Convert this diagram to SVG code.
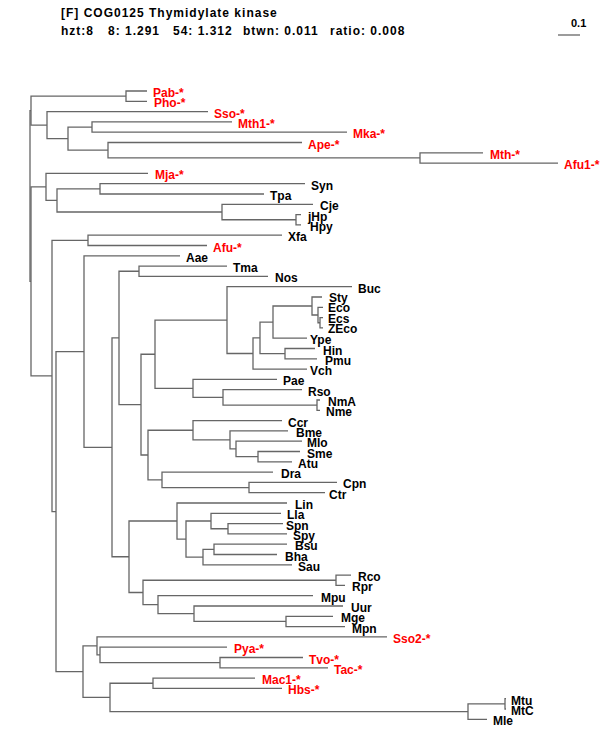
<svg xmlns="http://www.w3.org/2000/svg" width="600" height="750" viewBox="0 0 600 750">
<style>
text{font-family:"Liberation Sans",Arial,sans-serif;font-weight:bold;font-size:12px;fill:#000}
.h{letter-spacing:1px}
.r{fill:#ff0000}
.br{fill:none;stroke:#666;stroke-width:1.3}
</style>
<rect width="600" height="750" fill="#fff"/>
<g id="header">
<text class="h" x="61" y="17">[F] COG0125 Thymidylate kinase</text>
<text class="h" x="61" y="35">hzt:8</text>
<text class="h" x="108" y="35">8: 1.291</text>
<text class="h" x="173" y="35">54: 1.312</text>
<text class="h" x="243" y="35">btwn: 0.011</text>
<text class="h" x="330" y="35">ratio: 0.008</text>
</g>
<g id="scale">
<text x="571" y="27" style="font-size:11px">0.1</text>
<path class="br" d="M558 35H580"/>
</g>
<g id="connectors" class="br">
<path d="M31 110.6H30V281.4H31"/>
<path d="M126 96.15H31V125.1H47"/>
<path d="M147 91H126V101.3H147"/>
<path d="M208 111.6H47V138.6H68"/>
<path d="M92 127.05H68V150.2H108"/>
<path d="M232 121.9H92V132.2H347"/>
<path d="M302 142.5H108V157.95H420"/>
<path d="M483 152.8H420V163.1H558"/>
<path d="M46 186.9H31V375.95H52"/>
<path d="M148 173.4H46V200.4H57"/>
<path d="M100 188.85H57V212H222"/>
<path d="M305 183.7H100V194H264"/>
<path d="M313 204.3H222V219.75H296"/>
<path d="M301 214.6H296V224.9H301"/>
<path d="M88 240.35H52V511.6H56"/>
<path d="M282 235.2H88V245.5H207"/>
<path d="M84 351.55H56V671.65H83"/>
<path d="M180 255.8H84V447.3H112"/>
<path d="M119 337.9H112V556.75H129"/>
<path d="M139 271.25H119V404.6H141"/>
<path d="M227 266.1H139V276.4H268"/>
<path d="M155 354.25H141V455H148"/>
<path d="M227 320.1H155V388.4H193"/>
<path d="M352 286.7H227V353.5H253"/>
<path d="M260 337.9H253V369.1H307"/>
<path d="M273 322.1H260V353.65H285"/>
<path d="M312 306H273V338.2H307"/>
<path d="M322 297H312V315H318"/>
<path d="M323 307.3H318V322.75H320"/>
<path d="M323 317.6H320V327.9H323"/>
<path d="M315 348.5H285V358.8H317"/>
<path d="M277 379.4H193V397.4H223"/>
<path d="M302 389.7H223V405.15H317"/>
<path d="M320 400H317V410.3H320"/>
<path d="M193 430.25H148V479.8H162"/>
<path d="M282 420.6H193V439.9H230"/>
<path d="M288 430.9H230V448.9H236"/>
<path d="M302 441.2H236V456.65H258"/>
<path d="M300 451.5H258V461.8H292"/>
<path d="M273 472.1H162V487.55H249"/>
<path d="M337 482.4H249V492.7H325"/>
<path d="M177 521H129V592.5H143"/>
<path d="M287 503H177V539.05H186"/>
<path d="M211 521H186V557.1H203"/>
<path d="M281 513.3H211V528.75H228"/>
<path d="M283 523.6H228V533.9H287"/>
<path d="M214 549.35H203V564.8H292"/>
<path d="M287 544.2H214V554.5H277"/>
<path d="M336 580.25H143V604.7H158"/>
<path d="M351 575.1H336V585.4H345"/>
<path d="M313 595.7H158V613.7H194"/>
<path d="M343 606H194V621.45H286"/>
<path d="M333 616.3H286V626.6H345"/>
<path d="M97 645.9H83V697.4H110"/>
<path d="M387 636.9H97V654.9H100"/>
<path d="M227 647.2H100V662.65H220"/>
<path d="M303 657.5H220V667.8H328"/>
<path d="M153 683.25H110V711.6H468"/>
<path d="M255 678.1H153V688.4H282"/>
<path d="M505 703.85H468V719.3H487"/>
<path d="M506 698.7H505V709H506"/>
</g>
<g id="leaves">
<g id="Pab"><text class="r" x="153" y="97">Pab-*</text></g>
<g id="Pho"><text class="r" x="154" y="107.3">Pho-*</text></g>
<g id="Sso"><text class="r" x="214" y="117.6">Sso-*</text></g>
<g id="Mth1"><text class="r" x="238" y="127.9">Mth1-*</text></g>
<g id="Mka"><text class="r" x="353" y="138.2">Mka-*</text></g>
<g id="Ape"><text class="r" x="308" y="148.5">Ape-*</text></g>
<g id="Mth"><text class="r" x="490" y="158.8">Mth-*</text></g>
<g id="Afu1"><text class="r" x="564" y="169.1">Afu1-*</text></g>
<g id="Mja"><text class="r" x="155" y="179.4">Mja-*</text></g>
<g id="Syn"><text x="311" y="189.7">Syn</text></g>
<g id="Tpa"><text x="270" y="200">Tpa</text></g>
<g id="Cje"><text x="320" y="210.3">Cje</text></g>
<g id="jHp"><text x="308" y="220.6">jHp</text></g>
<g id="Hpy"><text x="310" y="230.9">Hpy</text></g>
<g id="Xfa"><text x="288" y="241.2">Xfa</text></g>
<g id="Afu"><text class="r" x="213" y="251.5">Afu-*</text></g>
<g id="Aae"><text x="186" y="261.8">Aae</text></g>
<g id="Tma"><text x="233" y="272.1">Tma</text></g>
<g id="Nos"><text x="275" y="282.4">Nos</text></g>
<g id="Buc"><text x="358" y="292.7">Buc</text></g>
<g id="Sty"><text x="329" y="302">Sty</text></g>
<g id="Eco"><text x="328" y="312.3">Eco</text></g>
<g id="Ecs"><text x="328" y="322.6">Ecs</text></g>
<g id="ZEco"><text x="328" y="332.9">ZEco</text></g>
<g id="Ype"><text x="310" y="344.2">Ype</text></g>
<g id="Hin"><text x="323" y="354.5">Hin</text></g>
<g id="Pmu"><text x="325" y="364.8">Pmu</text></g>
<g id="Vch"><text x="310" y="375.1">Vch</text></g>
<g id="Pae"><text x="283" y="385.4">Pae</text></g>
<g id="Rso"><text x="308" y="395.7">Rso</text></g>
<g id="NmA"><text x="328" y="406">NmA</text></g>
<g id="Nme"><text x="326" y="416.3">Nme</text></g>
<g id="Ccr"><text x="288" y="426.6">Ccr</text></g>
<g id="Bme"><text x="296" y="436.9">Bme</text></g>
<g id="Mlo"><text x="307" y="447.2">Mlo</text></g>
<g id="Sme"><text x="307" y="457.5">Sme</text></g>
<g id="Atu"><text x="298" y="467.8">Atu</text></g>
<g id="Dra"><text x="281" y="478.1">Dra</text></g>
<g id="Cpn"><text x="343" y="488.4">Cpn</text></g>
<g id="Ctr"><text x="329" y="498.7">Ctr</text></g>
<g id="Lin"><text x="295" y="509">Lin</text></g>
<g id="Lla"><text x="287" y="519.3">Lla</text></g>
<g id="Spn"><text x="286" y="529.6">Spn</text></g>
<g id="Spy"><text x="293" y="539.9">Spy</text></g>
<g id="Bsu"><text x="295" y="550.2">Bsu</text></g>
<g id="Bha"><text x="285" y="560.5">Bha</text></g>
<g id="Sau"><text x="298" y="570.8">Sau</text></g>
<g id="Rco"><text x="358" y="581.1">Rco</text></g>
<g id="Rpr"><text x="352" y="591.4">Rpr</text></g>
<g id="Mpu"><text x="321" y="601.7">Mpu</text></g>
<g id="Uur"><text x="351" y="612">Uur</text></g>
<g id="Mge"><text x="341" y="622.3">Mge</text></g>
<g id="Mpn"><text x="352" y="632.6">Mpn</text></g>
<g id="Sso2"><text class="r" x="393" y="642.9">Sso2-*</text></g>
<g id="Pya"><text class="r" x="234" y="653.2">Pya-*</text></g>
<g id="Tvo"><text class="r" x="309" y="663.5">Tvo-*</text></g>
<g id="Tac"><text class="r" x="334" y="673.8">Tac-*</text></g>
<g id="Mac1"><text class="r" x="262" y="684.1">Mac1-*</text></g>
<g id="Hbs"><text class="r" x="288" y="694.4">Hbs-*</text></g>
<g id="Mtu"><text x="511" y="704.7">Mtu</text></g>
<g id="MtC"><text x="511" y="715">MtC</text></g>
<g id="Mle"><text x="493" y="725.3">Mle</text></g>
</g>
</svg>
